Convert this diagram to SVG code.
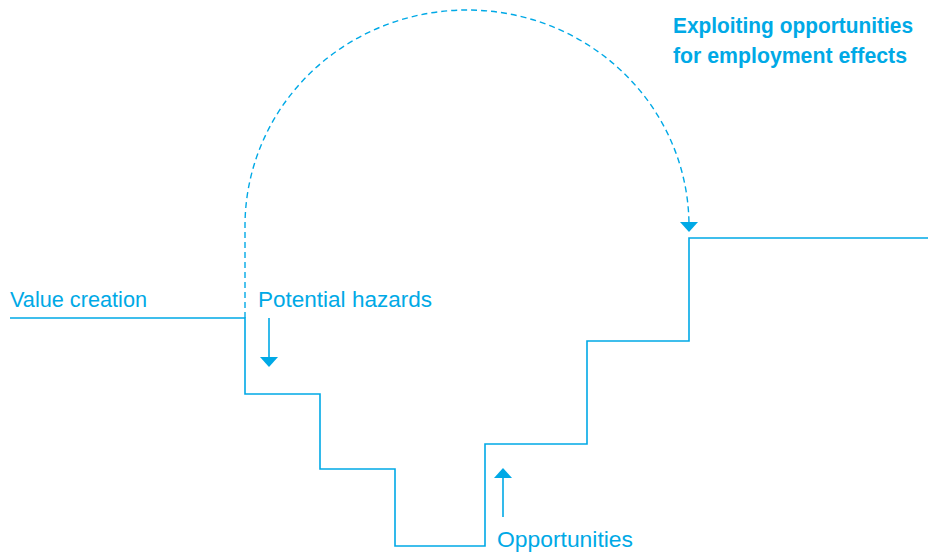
<svg xmlns="http://www.w3.org/2000/svg" width="935" height="557" viewBox="0 0 935 557">
<style>
.ln{fill:none;stroke:#00a9e6;stroke-width:1.6}
.dash{fill:none;stroke:#00a9e6;stroke-width:1.4;stroke-dasharray:6 4}
.head{fill:#00a9e6}
.lbl{font-family:"Liberation Sans",Arial,sans-serif;font-size:21.5px;fill:#00a9e6}
.ttl{font-family:"Liberation Sans",Arial,sans-serif;font-size:22px;font-weight:bold;fill:#00a9e6}
</style>
<rect width="935" height="557" fill="#ffffff"/>
<g id="connectors">
<path id="stairs" class="ln" d="M10,318 H245 V394 H320 V469 H395 V546 H485 V444 H587 V341 H689 V238 H928"/>
<path id="arc" class="dash" d="M245,318 V226 A222,216 0 0 1 689,226"/>
<polygon class="head" points="680,222 698,222 689,232"/>
<line class="ln" x1="269" y1="318" x2="269" y2="358"/>
<polygon class="head" points="260,357 278,357 269,367"/>
<line class="ln" x1="503" y1="517" x2="503" y2="477"/>
<polygon class="head" points="494,478 512,478 503,468"/>
</g>
<g id="value-creation"><text class="lbl" x="10" y="307" textLength="137" lengthAdjust="spacingAndGlyphs">Value creation</text></g>
<g id="potential-hazards"><text class="lbl" x="258" y="307" textLength="174" lengthAdjust="spacingAndGlyphs">Potential hazards</text></g>
<g id="opportunities"><text class="lbl" x="497" y="547" textLength="136" lengthAdjust="spacingAndGlyphs">Opportunities</text></g>
<g id="exploiting"><text class="ttl" x="673" y="33" textLength="240" lengthAdjust="spacingAndGlyphs">Exploiting opportunities</text><text class="ttl" x="673" y="63" textLength="234" lengthAdjust="spacingAndGlyphs">for employment effects</text></g>
</svg>
